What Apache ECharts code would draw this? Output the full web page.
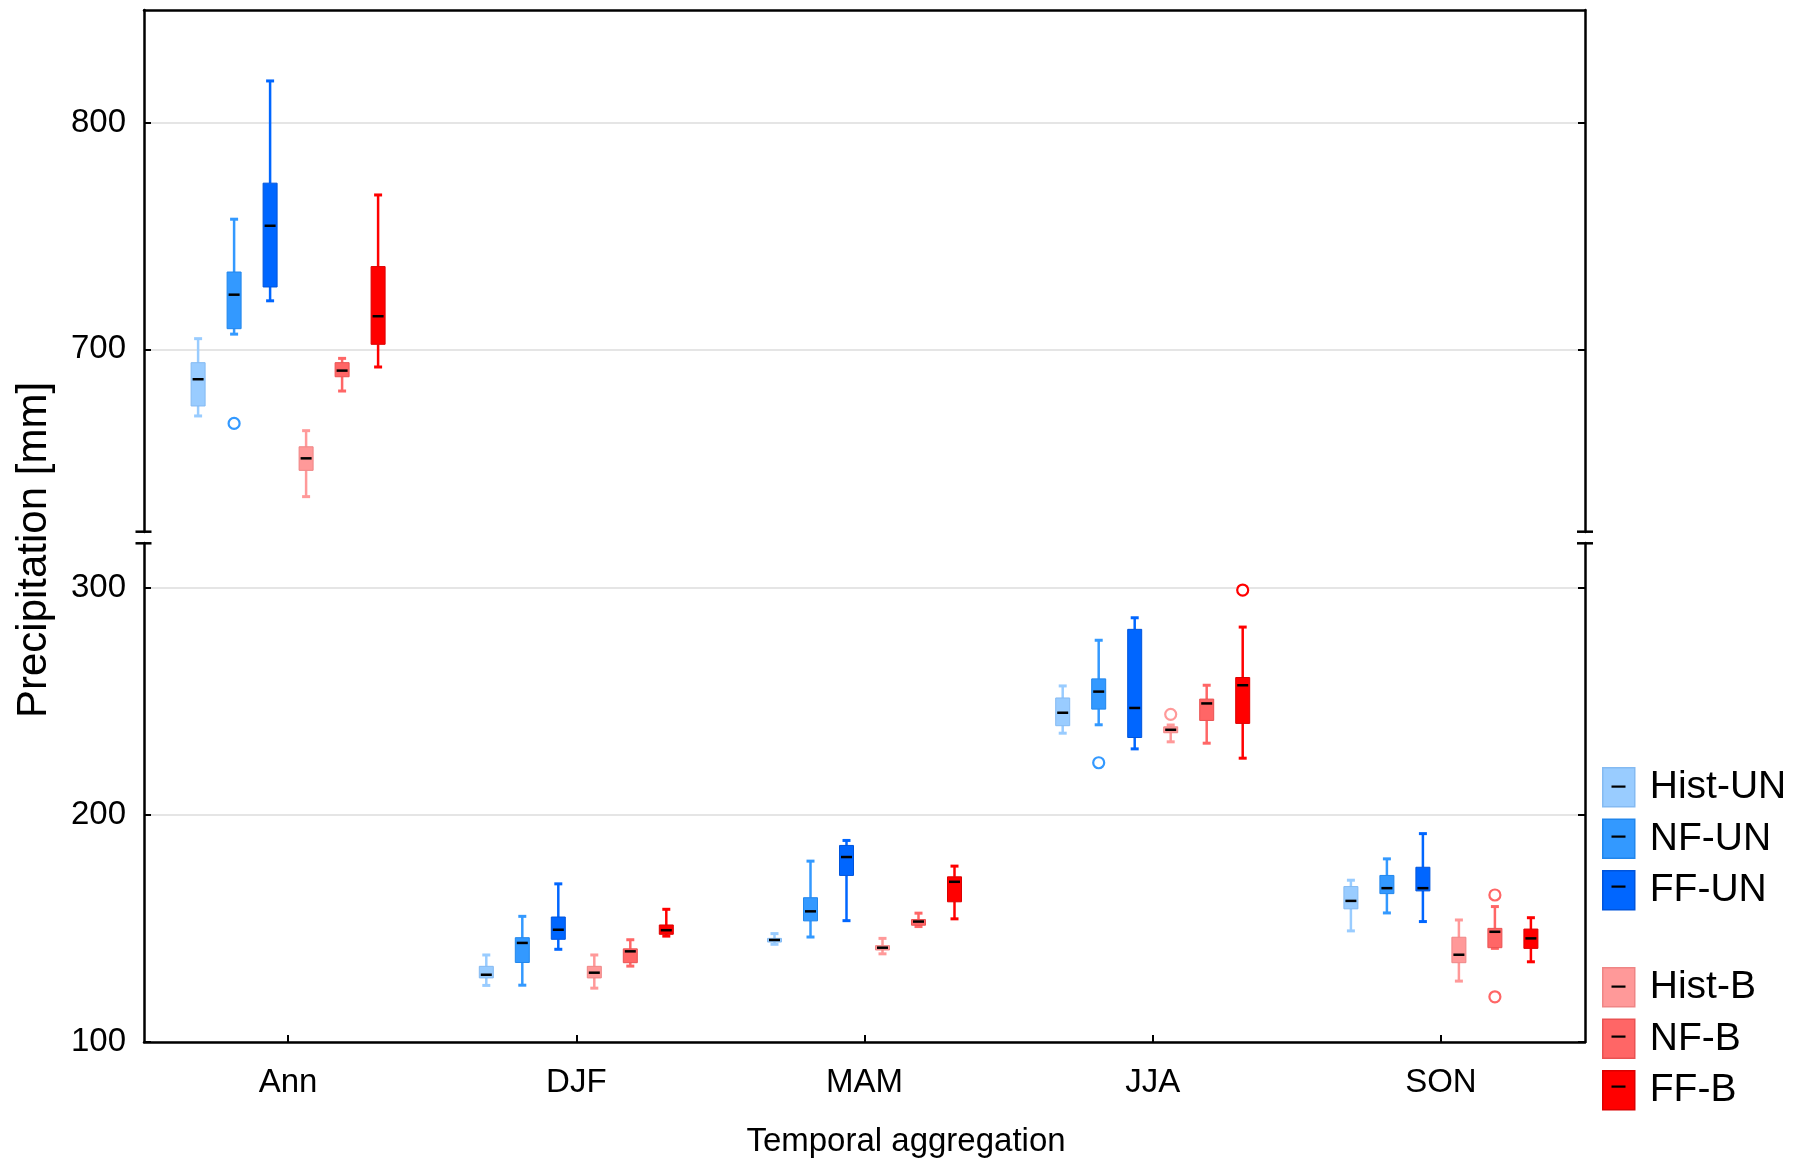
<!DOCTYPE html>
<html>
<head>
<meta charset="utf-8">
<title>Precipitation by temporal aggregation</title>
<script src="https://cdn.jsdelivr.net/npm/echarts@6/dist/echarts.min.js"></script>
<style>
  html, body { margin: 0; padding: 0; background: #fff; }
  #main { width: 1808px; height: 1161px; }
</style>
</head>
<body>
<div id="main"></div>
<script>
const categories = ['Ann', 'DJF', 'MAM', 'JJA', 'SON'];
const groups = ['Hist-UN', 'NF-UN', 'FF-UN', 'Hist-B', 'NF-B', 'FF-B'];

// [min, Q1, median, Q3, max] for Ann, DJF, MAM, JJA, SON
const histUN = [[670.6, 675.0, 686.8, 694.1, 704.7], [124.9, 128.2, 129.6, 133.3, 138.3], [143.0, 144.0, 144.9, 145.6, 147.7], [235.9, 239.2, 244.9, 251.4, 256.7], [148.9, 158.6, 162.1, 168.4, 171.2]];
const nfUN = [[706.7, 709.1, 724.1, 734.1, 757.4], [125.0, 135.0, 143.6, 145.9, 155.3], [146.2, 153.3, 157.5, 163.5, 179.6], [239.6, 246.5, 254.2, 259.8, 276.8], [156.8, 165.3, 167.7, 173.3, 180.6]];
const ffUN = [[721.4, 727.5, 754.5, 773.3, 818.4], [140.8, 145.2, 149.4, 155.0, 169.6], [153.4, 173.3, 181.4, 186.5, 188.7], [229.0, 234.0, 247.0, 281.6, 286.7], [153.0, 166.5, 167.7, 176.9, 191.7]];
const histB = [[635.0, 646.6, 651.9, 657.0, 664.1], [123.7, 128.2, 130.5, 133.3, 138.3], [138.8, 140.5, 141.5, 142.4, 145.6], [232.1, 236.1, 237.4, 238.7, 239.5], [126.8, 134.9, 138.4, 146.1, 153.7]];
const nfB = [[681.6, 687.9, 690.6, 694.1, 696.0], [133.4, 134.9, 139.9, 141.0, 145.0], [150.8, 151.4, 153.0, 153.9, 156.7], [231.5, 241.5, 249.0, 250.9, 257.0], [141.2, 141.5, 148.5, 150.0, 159.6]];
const ffB = [[692.2, 702.2, 714.6, 736.5, 768.1], [146.6, 147.4, 149.2, 151.5, 158.4], [154.2, 161.7, 170.5, 172.7, 177.4], [224.9, 240.2, 257.0, 260.4, 282.6], [135.3, 141.2, 145.6, 149.7, 154.7]];

// outliers: [category index, value]
const histUNOut = [];
const nfUNOut = [[0, 667.3], [3, 222.9]];
const ffUNOut = [];
const histBOut = [[3, 244.2]];
const nfBOut = [[4, 164.7], [4, 119.9]];
const ffBOut = [[3, 298.9]];

// broken y axis: upper and lower part
const topRange = [619.4, 849.7];
const bottomRange = [100, 319.6];
const topTicks = [700, 800];
const bottomTicks = [100, 200, 300];

const colors = ['#99ccff', '#3399ff', '#0066ff', '#ff9999', '#ff6666', '#ff0000'];
const edges = ['#84baf2', '#2186ec', '#0054dc', '#ef8585', '#ea5252', '#dc0000'];
const STEP = 36, BOX_W = 14, CAP_W = 8;
const FONT = 'Arial, "Liberation Sans", sans-serif';

const boxData = [histUN, nfUN, ffUN, histB, nfB, ffB];
const outData = [histUNOut, nfUNOut, ffUNOut, histBOut, nfBOut, ffBOut];

function line(x1, y1, x2, y2, stroke, w) {
  return { type: 'line', shape: { x1, y1, x2, y2 }, style: { stroke, lineWidth: w } };
}

function boxRenderer(g) {
  return function (params, api) {
    const cat = api.value(0);
    const x = api.coord([cat, api.value(3)])[0] + (g - 2.5) * STEP;
    const [yMin, yQ1, yMed, yQ3, yMax] = [1, 2, 3, 4, 5].map(i => api.coord([cat, api.value(i)])[1]);
    const c = colors[g];
    return {
      type: 'group',
      children: [
        line(x, yMax, x, yQ3, c, 2.5),
        line(x, yQ1, x, yMin, c, 2.5),
        line(x - CAP_W / 2, yMax, x + CAP_W / 2, yMax, c, 3),
        line(x - CAP_W / 2, yMin, x + CAP_W / 2, yMin, c, 3),
        { type: 'rect', shape: { x: x - BOX_W / 2, y: yQ3, width: BOX_W, height: Math.max(yQ1 - yQ3, 2) },
          style: { fill: c, stroke: edges[g], lineWidth: 1 } },
        line(x - BOX_W / 2 + 1.5, yMed, x + BOX_W / 2 - 1.5, yMed, '#000', 2.5)
      ]
    };
  };
}

const series = [];
groups.forEach((name, g) => {
  [0, 1].forEach(part => {
    const keep = i => (part === 0 ? i === 0 : i > 0);
    const rows = boxData[g].map((v, i) => [i].concat(v)).filter(r => keep(r[0]));
    series.push({
      type: 'custom', name, xAxisIndex: part, yAxisIndex: part * 2,
      renderItem: boxRenderer(g),
      encode: { x: 0, y: [1, 2, 3, 4, 5] },
      itemStyle: { color: colors[g] },
      data: rows, z: 3
    });
    const outs = outData[g].filter(o => keep(o[0]));
    if (outs.length) {
      series.push({
        type: 'scatter', name, xAxisIndex: part, yAxisIndex: part * 2,
        symbol: 'circle', symbolSize: 11, symbolOffset: [(g - 2.5) * STEP, 0],
        itemStyle: { color: '#fff', borderColor: colors[g], borderWidth: 2.2, opacity: 1 },
        data: outs, z: 4
      });
    }
  });
});

function yAxis(grid, side, range, ticks, labels) {
  return {
    type: 'value', gridIndex: grid, position: side,
    min: range[0], max: range[1], splitNumber: 2,
    axisLine: { show: true, lineStyle: { color: '#000', width: 2.5 } },
    axisTick: { show: true, inside: true, length: 7, customValues: ticks, lineStyle: { color: '#000', width: 2 } },
    axisLabel: { show: labels, customValues: ticks, margin: 18, fontSize: 33, fontFamily: FONT, color: '#000' },
    splitLine: { show: side === 'left', lineStyle: { color: '#dcdcdc', width: 1.5 } }
  };
}

function legendOf(names, top) {
  return {
    orient: 'vertical', left: 1602, top, padding: 0,
    itemWidth: 32, itemHeight: 39, itemGap: 11,
    selectedMode: false, icon: 'rect',
    textStyle: { fontSize: 39, lineHeight: 39, fontFamily: FONT, color: '#000', padding: [0, 0, 0, 10] },
    data: names.map(n => {
      const g = groups.indexOf(n);
      return { name: n, itemStyle: { color: colors[g], borderColor: edges[g], borderWidth: 1.5 } };
    })
  };
}

const graphics = [];
// axis break marks
[143.5, 1585].forEach(x => {
  [531.7, 543.3].forEach(y => {
    graphics.push({ type: 'line', shape: { x1: x - 8, y1: y, x2: x + 8, y2: y }, style: { stroke: '#000', lineWidth: 2.5 }, z: 10 });
  });
});
// median dashes in legend swatches
[767, 817, 867, 967, 1017, 1067].forEach(top => {
  graphics.push({ type: 'rect', shape: { x: 1611.5, y: top + 18.5, width: 14, height: 2.2 }, style: { fill: '#000' }, z: 10 });
});
graphics.push({
  type: 'text', x: 34, y: 550, rotation: Math.PI / 2,
  style: { text: 'Precipitation [mm]', font: '42px ' + FONT, fill: '#000', align: 'center', verticalAlign: 'middle' }
});
graphics.push({
  type: 'text', x: 906, y: 1142,
  style: { text: 'Temporal aggregation', font: '33px ' + FONT, fill: '#000', align: 'center', verticalAlign: 'middle' }
});

const myChart = echarts.init(document.getElementById('main'));
const option = {
  backgroundColor: '#fff',
  animation: false,
  grid: [
    { left: 144, right: 223, top: 10, height: 522 },
    { left: 144, right: 223, top: 543, bottom: 119 }
  ],
  xAxis: [
    {
      type: 'category', gridIndex: 0, data: categories, position: 'top',
      axisLine: { show: true, lineStyle: { color: '#000', width: 2.5 } },
      axisTick: { show: false }, axisLabel: { show: false }, splitLine: { show: false }
    },
    {
      type: 'category', gridIndex: 1, data: categories, position: 'bottom',
      axisLine: { show: true, lineStyle: { color: '#000', width: 2.5 } },
      axisTick: { show: true, inside: true, alignWithLabel: true, length: 7, lineStyle: { color: '#000', width: 2 } },
      axisLabel: { margin: 24, fontSize: 33, fontFamily: FONT, color: '#000' },
      splitLine: { show: false }
    }
  ],
  yAxis: [
    yAxis(0, 'left', topRange, topTicks, true),
    yAxis(0, 'right', topRange, topTicks, false),
    yAxis(1, 'left', bottomRange, bottomTicks, true),
    yAxis(1, 'right', bottomRange, bottomTicks, false)
  ],
  legend: [
    legendOf(groups.slice(0, 3), 767),
    legendOf(groups.slice(3), 967)
  ],
  graphic: graphics,
  series: series
};
myChart.setOption(option, true);
</script>
</body>
</html>
